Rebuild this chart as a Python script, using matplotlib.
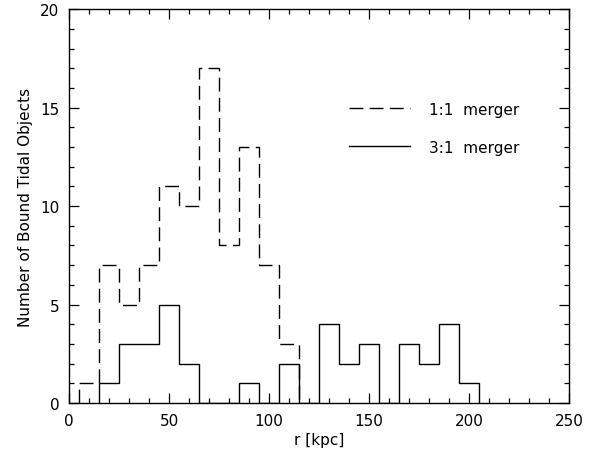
import matplotlib
matplotlib.use("Agg")
import matplotlib.pyplot as plt
from matplotlib.ticker import MultipleLocator

# ----------------------------- data --------------------------------------- #
# histogram of bound tidal objects vs. radius, 10 kpc bins
edges_11 = [5, 15, 25, 35, 45, 55, 65, 75, 85, 95, 105, 115]
counts_11 = [1, 7, 5, 7, 11, 10, 17, 8, 13, 7, 3]

edges_31 = [15, 25, 35, 45, 55, 65, 75, 85, 95, 105, 115, 125, 135, 145,
            155, 165, 175, 185, 195, 205]
counts_31 = [1, 3, 3, 5, 2, 0, 0, 1, 0, 2, 0, 4, 2, 3, 0, 3, 2, 4, 1]

labels = ["1:1  merger", "3:1  merger"]

# ----------------------------- plot --------------------------------------- #
plt.rcParams["font.family"] = ["DejaVu Sans"]
plt.rcParams["font.size"] = 11

fig = plt.figure(figsize=(5.93, 4.60), dpi=100)
ax = fig.add_axes([0.1164, 0.1217, 0.8431, 0.8563])

ax.stairs(counts_11, edges_11, baseline=0, color="black", linewidth=1.0,
          linestyle=(0, (10, 4.5)), label=labels[0])
ax.stairs(counts_31, edges_31, baseline=0, color="black", linewidth=1.0,
          label=labels[1])

ax.set_xlim(0, 250)
ax.set_ylim(0, 20)
ax.xaxis.set_major_locator(MultipleLocator(50))
ax.xaxis.set_minor_locator(MultipleLocator(10))
ax.yaxis.set_major_locator(MultipleLocator(5))
ax.yaxis.set_minor_locator(MultipleLocator(1))
ax.tick_params(which="both", direction="in", top=True, right=True, width=0.9)
ax.tick_params(which="major", length=7, pad=7)
ax.tick_params(which="minor", length=3.5)
for sp in ax.spines.values():
    sp.set_linewidth(1.0)

ax.set_xlabel("r [kpc]", labelpad=3)
ax.set_ylabel("Number of Bound Tidal Objects", labelpad=5)

ax.legend(loc="upper left", bbox_to_anchor=(0.533, 0.80), frameon=False,
          handlelength=4.0, handletextpad=1.2, labelspacing=1.5)

fig.savefig("out.png", dpi=100)
